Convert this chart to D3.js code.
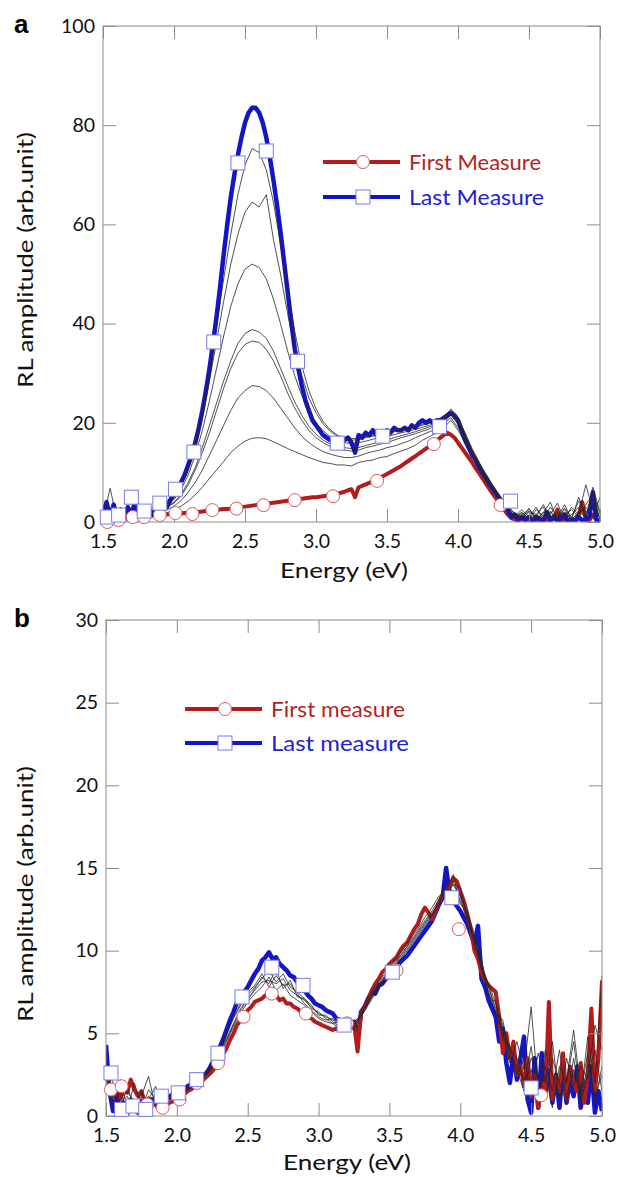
<!DOCTYPE html>
<html><head><meta charset="utf-8">
<script src="https://cdn.jsdelivr.net/npm/d3@7"></script>
<style>body{margin:0;background:#fff} svg{display:block} text{font-family:Lato,"DejaVu Sans",sans-serif}</style>
</head><body><svg id="c" width="618" height="1177"></svg>
<script>
// ---------- DATA ----------
const energyFine = [1.5,1.525,1.55,1.575,1.6,1.625,1.65,1.675,1.7,1.725,1.75,1.775,1.8,1.825,1.85,1.875,1.9,1.925,1.95,1.975,
2,2.025,2.05,2.075,2.1,2.125,2.15,2.175,2.2,2.225,2.25,2.275,2.3,2.325,2.35,2.375,2.4,2.425,2.45,2.475,
2.5,2.525,2.55,2.575,2.6,2.625,2.65,2.675,2.7,2.725,2.75,2.775,2.8,2.825,2.85,2.875,2.9,2.925,2.95,2.975,
3,3.025,3.05,3.075,3.1,3.125,3.15,3.175,3.2,3.225,3.25,3.275,3.3,3.325,3.35,3.375,3.4,3.425,3.45,3.475,
3.5,3.525,3.55,3.575,3.6,3.625,3.65,3.675,3.7,3.725,3.75,3.775,3.8,3.825,3.85,3.875,3.9,3.925,3.95,3.975,
4,4.025,4.05,4.075,4.1,4.125,4.15,4.175,4.2,4.225,4.25,4.275,4.3,4.325,4.35,4.375,4.4,4.425,4.45,4.475,
4.5,4.525,4.55,4.575,4.6,4.625,4.65,4.675,4.7,4.725,4.75,4.775,4.8,4.825,4.85,4.875,4.9,4.925,4.95,4.975,5];
const energyCoarse = [1.5,1.55,1.6,1.65,1.7,1.75,1.8,1.85,1.9,1.95,2,2.05,2.1,2.15,2.2,2.25,2.3,2.35,2.4,2.45,
2.5,2.55,2.6,2.65,2.7,2.75,2.8,2.85,2.9,2.95,3,3.05,3.1,3.15,3.2,3.25,3.3,3.35,3.4,3.45,
3.5,3.55,3.6,3.65,3.7,3.75,3.8,3.85,3.9,3.95,4,4.05,4.1,4.15,4.2,4.25,4.3,4.35,4.4,4.45,
4.5,4.55,4.6,4.65,4.7,4.75,4.8,4.85,4.9,4.95,5];

// Panel a
const aLast = [2,4,1,3.5,1,2.5,0.5,3,1.5,4,1,2,0.5,2.5,1.5,3,2,3.5,3,4.5,
5.5,6.5,8,9.5,11.5,13.5,16,19,22.5,26.5,31,36,41.5,47.5,54,60,65.5,70,74,77.5,
80.5,82.5,83.5,83.5,82.5,80.5,77.5,73.5,69,64,58.5,52.5,46.5,40.5,35,31,27.5,24.5,22.5,20.5,
19.5,18.5,17.5,17,16.5,16,15.5,16,16.5,17,16,14,17.5,17,18,17.5,18.5,17.5,18,18,
18.5,18,19,18.5,18.5,19,18.5,19.5,19,20,20.5,20,20.5,20,20.5,20.5,21,21.5,22,21.5,
20.5,18.5,16.5,15,13.5,12.5,11,9.8,8.8,7.5,6.5,5.5,4.5,3.5,2.4,1,1.5,0.5,1,0.5,
1,0.2,1,0.5,0.2,2,0.5,1,0.3,0.8,1.5,0.2,0.5,0.2,1,0.3,0.5,1,6,0.5,0];
const aFirst = [0.3,0.2,0.4,0.3,0.5,0.6,0.7,0.8,0.9,1.0,1.0,1.1,1.1,1.2,1.3,1.3,1.4,1.5,1.5,1.6,
1.7,1.7,1.7,1.8,1.8,1.9,2.0,2.0,2.1,2.2,2.3,2.4,2.5,2.5,2.6,2.6,2.7,2.8,2.9,3.0,
3.1,3.2,3.3,3.4,3.5,3.6,3.7,3.8,3.9,4.0,4.1,4.2,4.3,4.4,4.5,4.6,4.7,4.8,4.9,5.0,
5.0,5.1,5.2,5.3,5.4,5.5,5.7,5.9,6.1,6.4,6.6,5.0,7.0,7.3,7.6,7.9,8.2,8.5,8.9,9.3,
9.7,10.1,10.5,10.9,11.3,11.8,12.3,12.8,13.3,13.8,14.3,14.8,15.3,15.8,16.4,17.0,17.5,18.0,17.6,17.0,
16.0,15.0,14.0,13.0,12.0,10.8,9.8,8.7,7.6,6.5,5.5,4.5,3.5,2.5,1.5,0.8,0.5,0.3,0.6,0.2,
0.4,0.2,0.3,0.8,0.2,0.5,0.3,0.6,2.5,0.3,0.5,0.2,0.4,0.2,1.5,4,0.5,0.3,1.5,0.3,0.2];
const aMid1 = [0.5,6.8,0.3,1.0,0.5,1.5,0.8,1.2,1.5,1.8,2.5,3.2,4.2,5.5,7.0,8.8,10.5,12.2,14.0,15.3,
16.3,16.9,17.0,16.8,16.2,15.5,14.8,14.2,13.6,13.0,12.5,12.0,11.8,11.5,11.5,11.3,12.0,12.3,12.5,13.0,
13.2,13.8,14.3,14.8,15.5,16.5,17.2,18.0,19.0,20.5,18.5,16.0,13.5,11.0,8.5,6.5,4.5,2.5,1.0,2.0,
0.5,1.5,3.0,0.5,1.0,2.5,0.5,5.0,1.0,7.0,2.0];
const aMid2 = [1.0,2.0,0.5,1.5,1.0,2.0,1.0,1.5,2.0,2.5,3.2,4.3,6.0,8.0,10.5,13.5,16.5,19.5,22.5,25.0,
26.5,27.5,27.3,26.5,25.0,23.0,21.0,19.0,17.3,16.0,15.0,14.2,13.7,13.3,13.0,13.0,13.3,13.8,14.2,14.5,
15.0,15.3,15.8,16.3,17.0,17.6,18.2,18.8,19.8,21.0,19.0,16.5,13.0,11.5,8.0,6.8,4.0,2.8,0.8,1.5,
2.5,0.5,1.8,4.0,0.3,1.5,2.5,1.0,3.5,5.5,0.5];
const aMid3 = [0.3,1.5,2.5,0.8,1.8,0.5,2.2,1.0,2.5,3.0,3.8,5.2,7.5,10.5,14.0,18.0,22.5,27.0,31.0,34.0,
35.8,36.5,36.2,34.8,32.5,29.5,26.0,23.0,20.5,18.5,17.0,16.0,15.2,14.7,14.5,14.3,14.5,15.0,15.3,15.7,
16.0,16.5,17.0,17.4,17.8,18.3,18.8,19.4,20.0,21.5,19.8,17.0,14.0,11.2,8.8,6.2,4.8,2.2,1.5,0.5,
2.0,1.0,3.5,1.0,2.0,0.5,3.0,1.5,7.5,2.5,1.0];
const aMid4 = [1.5,0.5,2.0,1.2,0.4,2.5,1.0,1.8,2.2,3.2,4.0,5.5,8.0,11.0,15.0,19.5,24.0,28.5,32.5,36.0,
38.0,38.8,38.3,37.0,34.5,31.0,27.5,24.2,21.5,19.3,17.7,16.5,15.7,15.2,15.0,14.8,15.0,15.4,15.8,16.2,
16.5,17.0,17.4,17.8,18.2,18.7,19.2,19.7,20.3,21.8,20.0,17.2,13.8,11.0,8.6,6.6,4.2,2.6,1.2,2.5,
1.0,3.0,0.5,2.2,0.8,3.5,0.5,2.0,1.0,4.5,0.5];
const aMid5 = [0.8,2.5,1.0,0.5,1.5,1.0,2.8,1.5,2.8,3.6,4.5,6.5,9.5,13.5,18.5,24.5,31.0,37.5,43.5,48.0,
51.0,52.0,51.3,49.0,45.0,40.0,34.5,29.5,25.5,22.3,20.0,18.4,17.2,16.5,16.0,15.8,16.0,16.3,16.7,17.0,
17.3,17.6,18.0,18.3,18.7,19.1,19.5,20.0,20.5,22.0,20.2,17.5,14.2,11.5,9.0,6.8,4.6,3.0,1.8,0.8,
2.8,0.5,2.0,1.5,3.8,0.5,1.5,3.0,0.8,6.0,1.5];
const aMid6 = [2.0,0.5,1.5,2.5,0.8,1.8,1.2,2.5,3.0,4.0,5.0,7.2,10.5,15.0,21.0,28.5,36.5,44.5,52.0,58.0,
62.5,64.5,63.5,66.0,57.0,50.0,42.0,35.0,29.5,25.0,22.0,19.8,18.3,17.3,16.8,16.5,16.6,17.0,17.3,17.6,
17.9,18.2,18.5,18.8,19.1,19.5,19.9,20.3,20.8,22.3,20.5,17.8,14.5,11.8,9.2,7.0,4.8,3.2,1.0,1.8,
0.5,2.5,1.2,2.0,0.5,2.8,1.0,4.2,2.0,3.5,0.8];
const aMid7 = [1.2,2.8,0.8,2.0,1.5,0.6,2.0,2.8,3.2,4.2,5.3,7.6,11.0,16.0,22.5,30.5,39.5,49.0,58.0,66.0,
72.0,75.3,74.5,71.0,64.5,56.0,47.0,38.5,31.5,26.5,22.8,20.3,18.6,17.5,17.0,16.8,16.9,17.2,17.5,17.8,
18.1,18.4,18.7,19.0,19.3,19.7,20.1,20.5,21.0,22.8,21.0,18.0,14.8,12.0,9.5,7.2,5.0,3.4,1.5,1.0,
2.2,1.5,0.5,3.0,1.2,2.0,0.5,1.8,3.0,1.0,5.0];
const aFirstMarkE = [1.53,1.61,1.71,1.79,1.90,2.01,2.13,2.27,2.44,2.63,2.85,3.12,3.43,3.83,4.30];
const aFirstMarkV = [0,0.4,1.0,1.0,1.4,1.8,1.6,2.4,2.7,3.4,4.4,5.2,8.3,15.7,3.4];
const aLastMarkE = [1.53,1.61,1.70,1.79,1.90,2.01,2.14,2.28,2.45,2.65,2.87,3.15,3.47,3.87,4.37];
const aLastMarkV = [1.0,1.4,5.0,2.2,3.8,6.6,14.1,36.3,72.4,74.8,32.4,15.9,17.3,19.2,4.2];

// Panel b
const bLast = [4.3,1.5,0.3,1.2,0.2,0.8,0.1,1.0,0.4,0.2,0.9,0.3,0.6,1.0,0.7,1.2,1.0,1.3,1.1,1.4,
1.3,1.5,1.6,1.8,1.9,2.1,2.2,2.4,2.5,2.8,3.2,3.6,4.1,4.6,5.2,5.8,6.3,6.9,7.3,7.5,
7.8,8.2,8.6,8.9,9.4,9.6,9.9,9.5,9.6,9.2,9.0,8.8,8.5,8.4,8.1,7.9,7.6,7.3,7.1,6.8,
6.7,6.6,6.4,6.3,6.2,5.9,5.8,5.6,5.5,5.6,5.7,4.6,6.3,6.6,7.1,7.5,7.4,7.9,8.0,8.3,
8.5,8.8,9.0,9.3,9.5,9.7,10.0,10.3,10.6,10.9,11.2,11.5,11.8,12.3,12.8,13.2,15.0,13.4,13.0,12.7,
12.4,12.0,11.6,11.0,10.4,11.5,8.3,7.8,7.0,6.5,6.0,4.5,5.3,3.2,2.0,3.8,2.2,3.5,4.8,1.0,
0.2,3.5,0.5,3.8,1.5,2.8,0.8,2.5,0.5,3.0,0.8,2.2,1.2,3.0,0.5,2.0,0.8,3.0,0.2,1.5,0.3];
const bFirst = [3.0,1.8,1.2,1.5,1.0,1.8,1.4,2.2,1.6,1.2,1.5,0.8,1.0,0.7,0.9,0.5,0.6,0.7,0.8,0.9,
1.0,1.1,1.3,1.5,1.6,1.8,2.0,2.1,2.3,2.5,2.7,3.0,3.3,3.7,4.1,4.6,5.0,5.5,5.8,6.1,
6.4,6.6,6.9,7.0,7.1,7.3,7.4,7.2,7.3,7.0,7.1,6.8,6.8,6.6,6.5,6.3,6.2,6.0,5.9,5.7,
5.6,5.5,5.4,5.3,5.2,5.3,5.2,5.3,5.4,5.5,5.6,3.9,6.2,6.6,7.0,7.6,8.0,8.3,8.7,8.9,
9.2,9.4,9.6,10.0,10.3,10.5,10.9,11.3,11.6,12.2,12.6,12.3,11.9,12.4,12.9,13.4,13.5,13.9,14.4,14.2,
13.6,13.0,12.2,11.3,10.0,9.5,8.7,8.2,7.9,7.7,7.5,6.0,3.8,5.0,3.5,4.5,2.5,3.0,1.8,3.5,
1.2,2.5,0.5,2.0,1.2,6.9,1.0,2.5,1.5,3.8,1.0,3.0,2.0,1.5,3.2,0.8,2.5,6.5,1.5,3.5,8.2];
const bMid1 = [3.5,0.5,1.5,0.3,2.0,0.6,1.2,0.8,1.0,1.2,1.3,1.5,1.8,2.1,2.4,3.0,3.8,4.7,5.6,6.5,
7.1,7.6,8.1,8.2,8.0,8.3,7.6,7.3,7.0,6.6,6.2,6.0,5.8,5.6,5.5,5.7,6.1,6.9,7.6,8.1,
8.7,9.2,9.8,10.4,11.0,11.6,12.2,12.9,13.8,14.2,13.0,12.0,10.5,9.0,8.0,6.8,5.5,4.0,3.5,2.0,
4.2,1.0,3.0,1.5,4.0,1.0,3.5,0.8,2.5,4.0,1.5];
const bMid2 = [2.5,1.0,0.3,1.8,0.5,1.2,2.4,0.5,1.1,1.0,1.2,1.6,1.9,2.2,2.6,3.2,4.0,5.0,6.0,6.8,
7.5,7.9,8.6,7.8,8.5,7.9,8.0,7.4,6.8,6.4,6.0,5.8,5.9,5.5,5.4,5.2,6.3,7.2,7.9,8.4,
8.9,9.6,10.1,10.8,11.3,12.0,12.6,13.3,13.5,14.0,13.3,11.6,10.8,8.8,7.5,6.2,5.0,3.2,4.5,2.8,
6.6,1.5,2.5,0.5,3.0,2.0,4.5,1.0,3.2,1.2,2.5];
const bMid3 = [3.0,2.0,0.8,1.2,0.2,1.5,0.5,1.4,0.9,1.3,1.4,1.5,1.7,2.0,2.5,3.1,3.9,4.9,5.9,6.7,
7.3,7.8,8.3,8.8,8.1,8.6,7.8,7.5,7.1,6.5,6.3,5.9,5.6,5.7,5.3,5.6,6.0,7.0,7.7,8.3,
8.8,9.4,9.9,10.6,11.2,11.8,12.4,13.1,14.0,13.6,13.4,12.3,11.0,9.3,7.8,6.5,5.2,3.8,2.5,3.5,
1.5,3.8,2.0,4.5,1.0,2.2,5.2,1.5,3.8,0.8,3.0];
const bMid4 = [2.0,1.2,2.2,0.5,1.0,0.3,1.6,1.0,1.3,1.1,1.5,1.4,1.8,2.3,2.5,3.0,3.7,4.6,5.5,6.4,
7.0,7.7,8.4,8.0,8.9,7.7,8.2,7.2,7.1,6.7,6.1,6.1,5.7,5.4,5.6,5.5,6.2,6.8,7.5,8.2,
8.6,9.3,10.0,10.5,11.1,11.7,12.3,12.8,13.6,14.6,12.8,12.4,10.2,9.5,7.2,6.9,4.6,4.2,2.8,1.5,
3.5,2.5,1.0,3.5,2.0,0.8,2.8,1.2,4.8,2.0,8.5];
const bMid5 = [1.5,0.8,1.0,1.5,0.8,0.5,1.0,1.8,0.7,1.0,1.2,1.4,1.7,2.0,2.4,2.9,3.6,4.5,5.4,6.2,
6.9,7.4,7.8,8.4,7.6,8.0,7.3,7.0,6.7,6.3,5.9,5.7,5.6,5.3,5.4,5.3,6.0,6.7,7.4,8.0,
8.6,9.1,9.7,10.3,10.9,11.5,12.1,12.7,13.4,14.0,13.8,12.0,10.8,9.0,7.8,6.3,5.8,3.5,3.0,2.2,
2.8,1.2,4.0,2.5,1.0,3.5,1.8,3.0,2.2,5.5,4.0];
const bFirstMarkE = [1.535,1.61,1.79,1.90,2.02,2.14,2.29,2.47,2.67,2.91,3.20,3.55,3.99,4.57];
const bFirstMarkV = [1.6,1.8,0.7,0.5,1.0,2.0,3.2,6.0,7.4,6.2,5.6,8.8,11.3,1.25];
const bLastMarkE = [1.535,1.61,1.69,1.78,1.89,2.01,2.14,2.29,2.46,2.67,2.89,3.18,3.52,3.94,4.50];
const bLastMarkV = [2.6,0.4,0.6,0.4,1.2,1.4,2.2,3.8,7.2,9.0,7.9,5.5,8.7,13.2,1.7];

const xTicks = [1.5,2.0,2.5,3.0,3.5,4.0,4.5,5.0];
const aYTicks = [0,20,40,60,80,100];
const bYTicks = [0,5,10,15,20,25,30];

// ---------- DRAW ----------
const RED = "#b41c1c", BLUE = "#1515c8", RED_TXT = "#b52222", BLUE_TXT = "#2222d4";
const svg = d3.select("#c");
const zip = (xs, ys) => xs.map((e, i) => [e, ys[i]]);

function panel(o) {
  const x = d3.scaleLinear().domain([1.5, 5]).range([o.l, o.r]);
  const y = d3.scaleLinear().domain([0, o.ymax]).range([o.b, o.t]);
  const cid = "clip" + o.id;
  svg.append("clipPath").attr("id", cid).append("rect")
    .attr("x", o.l).attr("y", o.t).attr("width", o.r - o.l).attr("height", o.b - o.t);
  const line = d3.line().x(d => x(d[0])).y(d => y(d[1]));
  const gl = svg.append("g").attr("clip-path", `url(#${cid})`);

  o.thick.forEach(s => {
    gl.append("path").datum(zip(energyFine, s.v)).attr("d", line)
      .attr("fill", "none").attr("stroke", s.c).attr("stroke-width", s.w).attr("stroke-linejoin", "round");
  });
  o.mids.forEach(v => {
    gl.append("path").datum(zip(energyCoarse, v)).attr("d", line)
      .attr("fill", "none").attr("stroke", "#262626").attr("stroke-width", 0.8);
  });

  // axes
  const axCol = "#8c8c8c";
  const ax = (g) => { g.select(".domain").remove(); g.selectAll("line").attr("stroke", axCol); g.selectAll("text").attr("fill", "#111").style("font-size", "19.5px").style("font-family", "Lato"); };
  svg.append("g").attr("transform", `translate(0,${o.b})`)
    .call(d3.axisBottom(x).tickValues(xTicks).tickFormat(d3.format(".1f")).tickSize(-13).tickPadding(12)).call(ax);
  svg.append("g").attr("transform", `translate(0,${o.t})`)
    .call(d3.axisTop(x).tickValues(xTicks).tickFormat("").tickSize(-13)).call(ax);
  svg.append("g").attr("transform", `translate(${o.l},0)`)
    .call(d3.axisLeft(y).tickValues(o.yTicks).tickSize(-13).tickPadding(8)).call(ax);
  svg.append("g").attr("transform", `translate(${o.r},0)`)
    .call(d3.axisRight(y).tickValues(o.yTicks).tickFormat("").tickSize(-13)).call(ax);
  svg.append("rect").attr("x", o.l).attr("y", o.t).attr("width", o.r - o.l).attr("height", o.b - o.t)
    .attr("fill", "none").attr("stroke", axCol).attr("stroke-width", 1);

  // markers
  svg.append("g").selectAll("circle").data(zip(o.fmE, o.fmV)).join("circle")
    .attr("cx", d => x(d[0])).attr("cy", d => y(d[1])).attr("r", 6.5)
    .attr("fill", "#fff").attr("stroke", "#d85a5a").attr("stroke-width", 1);
  svg.append("g").selectAll("rect").data(zip(o.lmE, o.lmV)).join("rect")
    .attr("x", d => x(d[0]) - 7).attr("y", d => y(d[1]) - 7).attr("width", 14).attr("height", 14)
    .attr("fill", "#fff").attr("stroke", "#7a7aee").attr("stroke-width", 1);

  // labels
  svg.append("text").attr("x", o.labX).attr("y", o.labY).attr("text-anchor", "middle")
    .style("font-size", "22px").attr("fill", "#111")
    .attr("textLength", 128).attr("lengthAdjust", "spacingAndGlyphs").text("Energy (eV)");
  svg.append("text").attr("transform", `translate(33,${o.yLabC}) rotate(-90)`).attr("text-anchor", "middle")
    .style("font-size", "22px").attr("fill", "#111")
    .attr("textLength", 256).attr("lengthAdjust", "spacingAndGlyphs").text("RL amplitude (arb.unit)");
  svg.append("text").attr("x", 14).attr("y", o.letterY).style("font-size", "26px").style("font-weight", "bold")
    .style("font-family", "Liberation Sans, Arial").attr("fill", "#000").text(o.letter);

  // legend
  const lg = svg.append("g");
  [[o.legY[0], RED, RED_TXT, o.legText[0], "c", o.legW[0]], [o.legY[1], BLUE, BLUE_TXT, o.legText[1], "s", o.legW[1]]].forEach(([ly, c, tc, t, m, w]) => {
    lg.append("line").attr("x1", o.legX).attr("x2", o.legX + 77).attr("y1", ly).attr("y2", ly)
      .attr("stroke", c).attr("stroke-width", 4);
    if (m === "c") lg.append("circle").attr("cx", o.legX + 40).attr("cy", ly).attr("r", 6.5)
      .attr("fill", "#fff").attr("stroke", "#d85a5a");
    else lg.append("rect").attr("x", o.legX + 33).attr("y", ly - 7).attr("width", 14).attr("height", 14)
      .attr("fill", "#fff").attr("stroke", "#7a7aee");
    lg.append("text").attr("x", o.legX + 86).attr("y", ly + 7.5).style("font-size", "21px").attr("fill", tc)
      .attr("textLength", w).attr("lengthAdjust", "spacingAndGlyphs").text(t);
  });
}

panel({id: "a", l: 103, r: 600, t: 26, b: 522, ymax: 100, yTicks: aYTicks,
  thick: [{v: aFirst, c: RED, w: 4}, {v: aLast, c: BLUE, w: 4.5}],
  mids: [aMid1, aMid2, aMid3, aMid4, aMid5, aMid6, aMid7],
  fmE: aFirstMarkE, fmV: aFirstMarkV, lmE: aLastMarkE, lmV: aLastMarkV,
  labX: 344, labY: 578, yLabC: 260, letter: "a", letterY: 33,
  legX: 323, legY: [162, 197], legText: ["First Measure", "Last Measure"], legW: [132, 135]});

panel({id: "b", l: 106, r: 602, t: 620, b: 1116, ymax: 30, yTicks: bYTicks,
  thick: [{v: bLast, c: BLUE, w: 4.5}, {v: bFirst, c: RED, w: 4}],
  mids: [bMid1, bMid2, bMid3, bMid4, bMid5],
  fmE: bFirstMarkE, fmV: bFirstMarkV, lmE: bLastMarkE, lmV: bLastMarkV,
  labX: 347, labY: 1170, yLabC: 894, letter: "b", letterY: 627,
  legX: 185, legY: [709, 743], legText: ["First measure", "Last measure"], legW: [134, 138]});
</script></body></html>
